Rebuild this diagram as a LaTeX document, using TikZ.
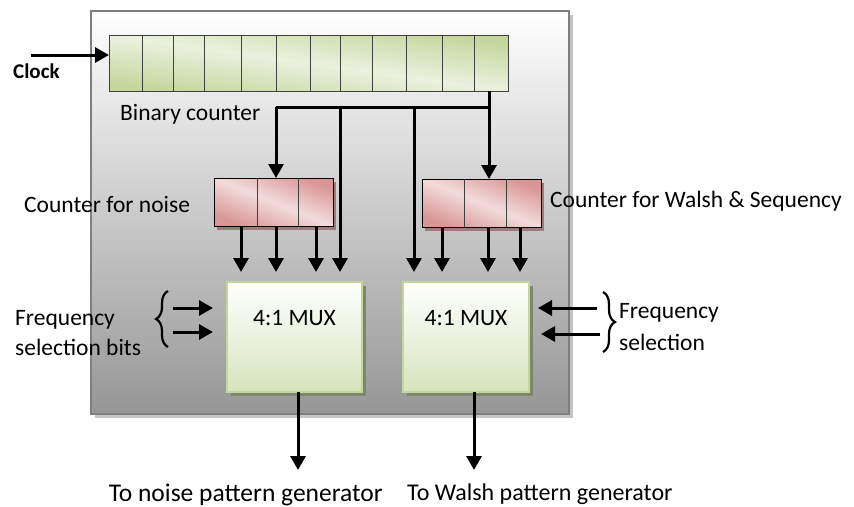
\documentclass[tikz,border=0pt]{standalone}
\usepackage{fontspec}
\setmainfont{Carlito}
\usetikzlibrary{arrows.meta,shadows,decorations.pathreplacing,calc}

\definecolor{framegray}{HTML}{7F7F7F}
\definecolor{frameshadow}{HTML}{C4C4C4}
\definecolor{framebottom}{HTML}{969696}
\definecolor{greendark}{HTML}{C3D69B}
\definecolor{greenlight}{HTML}{EBF1DE}
\definecolor{pinkdark}{HTML}{D99694}
\definecolor{pinklight}{HTML}{F2DCDB}
\definecolor{pinkshadow}{HTML}{9E7B7B}
\definecolor{muxborder}{HTML}{C3D69B}
\definecolor{muxbottom}{HTML}{D7E4BD}
\definecolor{muxshadow}{HTML}{7E866C}

\begin{document}
\begin{tikzpicture}[x=1pt,y=-1pt,
  box/.style={rectangle, inner sep=0pt, outer sep=0pt},
  framebox/.style={box, draw=framegray, line width=2.5pt,
    top color=white, bottom color=framebottom,
    drop shadow={shadow xshift=4pt, shadow yshift=-4pt, fill=frameshadow, opacity=1}},
  bincounter/.style={box, draw=black!75, line width=1pt,
    top color=greendark, bottom color=greendark, middle color=greenlight, shading angle=-8},
  smallcounter/.style={box, draw=black, line width=1pt,
    top color=pinkdark, bottom color=pinkdark, middle color=pinklight, shading angle=-22,
    drop shadow={shadow xshift=3pt, shadow yshift=-4pt, fill=pinkshadow, opacity=1}},
  muxbox/.style={box, draw=muxborder, line width=2.5pt,
    top color=white, bottom color=muxbottom,
    drop shadow={shadow xshift=4pt, shadow yshift=-4pt, fill=muxshadow, opacity=1}},
  cellline/.style={draw=black!75, line width=1pt},
  lbl/.style={font=\fontsize{23.5}{28}\selectfont, inner sep=0pt, anchor=base west},
  wire/.style={line width=3pt},
  arr/.style={line width=3pt, -{Triangle[width=15pt,length=14pt]}},
  curly/.style={decorate, decoration={brace, amplitude=12pt}, line width=2.2pt},
]
\useasboundingbox (0,0) rectangle (854,506);

% enclosing module
\node[framebox, minimum width=478pt, minimum height=403pt] (frame) at (330,212.5) {};

% 12-bit binary counter
\node[bincounter, minimum width=399pt, minimum height=56pt] (bc) at (308.5,63) {};
\foreach \x in {142,173,204,241,276,310,340,372,406,442,474}
  \draw[cellline] (\x,35) -- (\x,91);

% 3-bit counters
\node[smallcounter, minimum width=119pt, minimum height=48pt] (nc) at (273.5,202) {};
\foreach \x in {257,298}
  \draw[cellline] (\x,178) -- (\x,226);
\node[smallcounter, minimum width=119pt, minimum height=48pt] (wc) at (481.5,203) {};
\foreach \x in {464,506}
  \draw[cellline] (\x,179) -- (\x,227);

% multiplexers
\node[muxbox, minimum width=135pt, minimum height=110pt,
      label={[font=\fontsize{23.5}{28}\selectfont, yshift=19pt]center:{4:1 MUX}}] (mux1) at (294.5,337) {};
\node[muxbox, minimum width=126pt, minimum height=110pt,
      label={[font=\fontsize{23.5}{28}\selectfont, yshift=19pt]center:{4:1 MUX}}] (mux2) at (466,337) {};

% clock input
\coordinate (clk) at (31,55);
\draw[arr] (clk) -- (bc.west |- clk);
\node[font=\bfseries\fontsize{21}{25}\selectfont, inner sep=0pt, anchor=base west] (clklbl) at (13,78) {Clock};

% taps from the binary counter
\coordinate (tap) at (489,91);
\coordinate (jR) at (489,107);
\coordinate (jL) at (276,107);
\coordinate (jA) at (340,107);
\coordinate (jB) at (414,107);
\draw[wire] (tap) -- (jR) -- (jL);
\draw[arr] (jR) -- (jR |- wc.north);
\draw[arr] (jL) -- (jL |- nc.north);

% select inputs of the multiplexers
\coordinate (in1) at ($(mux1.north)+(0,-10)$);
\coordinate (in2) at ($(mux2.north)+(0,-10)$);
\draw[arr] (jA) -- (jA |- in1);
\draw[arr] (jB) -- (jB |- in2);
\foreach \x in {241,276,316}
  \draw[arr] (\x,0 |- nc.south) -- (\x,0 |- in1);
\foreach \x in {442,488,520}
  \draw[arr] (\x,0 |- wc.south) -- (\x,0 |- in2);

% frequency selection inputs
\coordinate (fl1) at (173,308);
\coordinate (fl2) at (173,332);
\draw[arr] (fl1) -- ++(40,0);
\draw[arr] (fl2) -- ++(40,0);
\draw[curly] (168,347) -- (168,291);
\coordinate (fr1) at (597,308);
\coordinate (fr2) at (600,334);
\draw[arr] (fr1) -- ++(-59,0);
\draw[arr] (fr2) -- ++(-59,0);
\draw[curly] (603,292) -- (603,352);

% outputs
\coordinate (out1) at (298,470);
\coordinate (out2) at (474,470);
\draw[arr] (out1 |- mux1.south) -- (out1);
\draw[arr] (out2 |- mux2.south) -- (out2);

% labels
\node[lbl] (bclbl) at (120,120) {Binary counter};
\node[lbl] (nclbl) at (24,212) {Counter for noise};
\node[lbl] (wclbl) at (550,207) {Counter for Walsh \& Sequency};
\node[lbl] (fq1) at (15,325) {Frequency};
\node[lbl] (fq2) at (15,355) {selection bits};
\node[lbl] (fq3) at (619,318) {Frequency};
\node[lbl] (fq4) at (619,350) {selection};
\node[font=\fontsize{25.5}{30}\selectfont, inner sep=0pt, anchor=base east] (o1lbl) at (383,501) {To noise pattern generator};
\node[font=\fontsize{24}{29}\selectfont, inner sep=0pt, anchor=base west] (o2lbl) at (407,500) {To Walsh pattern generator};
\end{tikzpicture}
\end{document}
